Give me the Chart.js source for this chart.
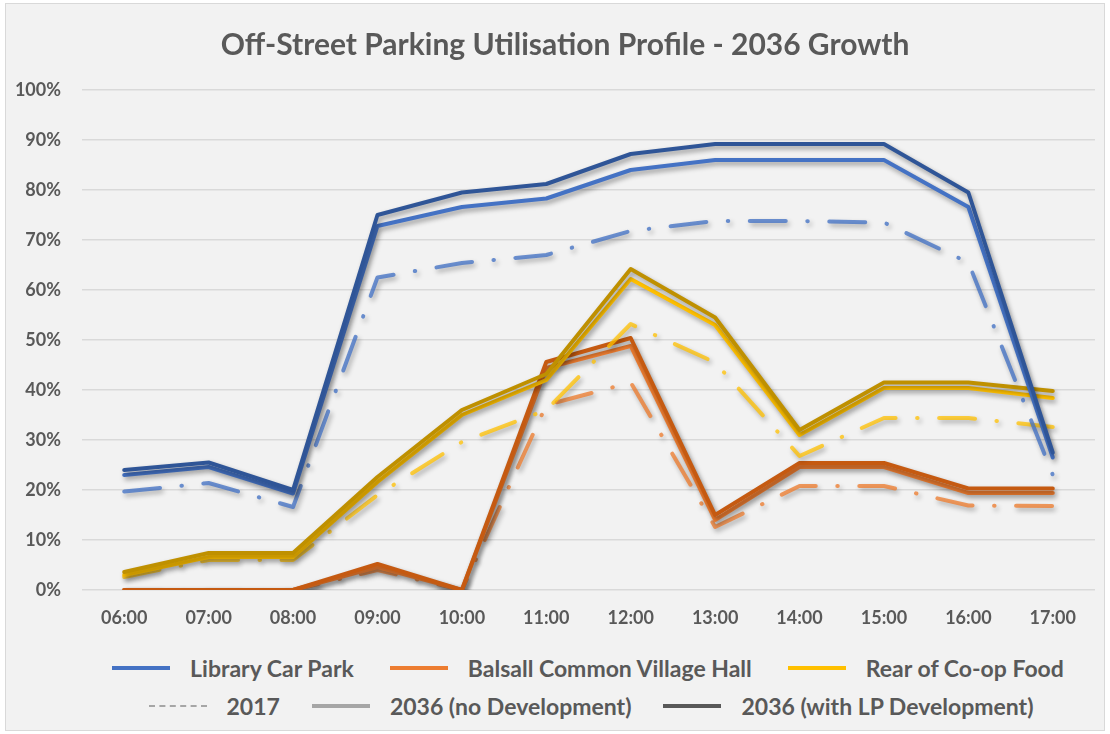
<!DOCTYPE html>
<html>
<head>
<meta charset="utf-8">
<script src="https://cdn.jsdelivr.net/npm/chart.js@4"></script>
<style>
  html, body { margin: 0; padding: 0; background: #ffffff; }
  body { width: 1110px; height: 734px; position: relative; overflow: hidden; font-family: Lato, 'Open Sans', sans-serif; }
  #frame { position: absolute; left: 5px; top: 3px; width: 1098px; height: 726px; border: 1px solid #d9d9d9; background: #f2f2f2; }
  #chartBox { position: absolute; left: 0; top: 0; width: 1110px; height: 640px; }
  #title { position: absolute; left: 0; top: 25px; width: 1130px; text-align: center; font-size: 30px; line-height: 36px; font-weight: 700; color: #595959; }
  .legendRow { position: absolute; left: 0; width: 1110px; height: 28px; box-sizing: border-box; display: flex; justify-content: center; color: #595959; font-weight: 700; font-size: 23px; line-height: 28px; }
  .item { display: flex; align-items: center; }
  .swatch { display: inline-block; width: 58px; height: 0; margin-right: 20px; }
</style>
</head>
<body>
<div id="frame"></div>
<div id="chartBox"><canvas id="parking-chart"></canvas></div>
<div id="title">Off-Street Parking Utilisation Profile - 2036 Growth</div>
<div class="legendRow" id="legendLocations" style="top:654px; gap:36px; padding-left:66px;"></div>
<div class="legendRow" id="legendScenarios" style="top:692px; gap:32px; padding-left:72px;"></div>
<script>
// categories
const hours = ['06:00', '07:00', '08:00', '09:00', '10:00', '11:00', '12:00', '13:00', '14:00', '15:00', '16:00', '17:00'];

// Library Car Park (% utilisation)
const library2017 = [19.7, 21.4, 16.6, 62.5, 65.4, 67, 71.8, 73.8, 73.8, 73.5, 65.5, 23];
const libraryNoDev = [23, 24.6, 19.3, 72.8, 76.6, 78.3, 84, 86, 86, 86, 76.6, 26.5];
const libraryLP = [24, 25.5, 20, 75, 79.5, 81.2, 87.2, 89.2, 89.2, 89.2, 79.5, 27.5];

// Balsall Common Village Hall
const balsall2017 = [0, 0, 0, 4, 0, 37, 41.5, 12.6, 20.8, 20.8, 16.9, 16.8];
const balsallNoDev = [0, 0, 0, 4.6, 0, 44.4, 48.8, 14, 24.6, 24.6, 19.4, 19.4];
const balsallLP = [0, 0, 0, 5.2, 0, 45.6, 50.4, 15, 25.4, 25.4, 20.3, 20.3];

// Rear of Co-op Food
const coop2017 = [2.6, 6, 6, 19, 29.6, 36, 53.2, 45.5, 26.8, 34.4, 34.4, 32.6];
const coopNoDev = [3, 6.6, 6.6, 21.6, 35, 42, 62.2, 53, 31, 40.4, 40.4, 38.4];
const coopLP = [3.6, 7.4, 7.4, 22.6, 36, 43.2, 64.2, 54.5, 32, 41.5, 41.5, 39.8];

const yTicks = [0, 10, 20, 30, 40, 50, 60, 70, 80, 90, 100];

const locations = ['Library Car Park', 'Balsall Common Village Hall', 'Rear of Co-op Food'];
const scenarios = ['2017', '2036 (no Development)', '2036 (with LP Development)'];

const dashDot = [36, 21.5, 0.5, 21.5];

function series(label, data, color, dash) {
  return {
    label: label,
    data: data,
    borderColor: color,
    borderWidth: 4,
    borderDash: dash || [],
    borderCapStyle: 'round',
    borderJoinStyle: 'round',
    pointRadius: 0,
    pointHoverRadius: 0,
    tension: 0,
    fill: false
  };
}

// soft drop shadow like the spreadsheet line effect
const shadowPlugin = {
  id: 'lineShadow',
  beforeDatasetDraw(chart) {
    const ctx = chart.ctx;
    ctx.save();
    ctx.shadowColor = 'rgba(0, 0, 0, 0.38)';
    ctx.shadowBlur = 5;
    ctx.shadowOffsetX = 2;
    ctx.shadowOffsetY = 3;
  },
  afterDatasetDraw(chart) {
    chart.ctx.restore();
  }
};

const ctx = document.getElementById('parking-chart').getContext('2d');
new Chart(ctx, {
  type: 'line',
  data: {
    labels: hours,
    datasets: [
      series('Library Car Park 2036 (with LP Development)', libraryLP, '#2f5597'),
      series('Library Car Park 2036 (no Development)', libraryNoDev, '#4472c4'),
      series('Library Car Park 2017', library2017, 'rgba(68, 114, 196, 0.78)', dashDot),
      series('Rear of Co-op Food 2036 (with LP Development)', coopLP, '#bf9000'),
      series('Rear of Co-op Food 2036 (no Development)', coopNoDev, '#ffc000'),
      series('Rear of Co-op Food 2017', coop2017, 'rgba(255, 192, 0, 0.75)', dashDot),
      series('Balsall Common Village Hall 2036 (with LP Development)', balsallLP, '#c55a11'),
      series('Balsall Common Village Hall 2036 (no Development)', balsallNoDev, '#ed7d31'),
      series('Balsall Common Village Hall 2017', balsall2017, 'rgba(237, 125, 49, 0.78)', dashDot)
    ]
  },
  options: {
    responsive: true,
    maintainAspectRatio: false,
    animation: false,
    layout: { padding: { top: 90, right: 15, left: 0, bottom: 0 } },
    plugins: {
      legend: { display: false },
      title: { display: false },
      tooltip: { enabled: false }
    },
    scales: {
      x: {
        offset: true,
        grid: { display: false, drawTicks: false },
        border: { display: false },
        ticks: {
          color: '#595959',
          padding: 17,
          font: { family: 'Lato', size: 18, weight: 'bold' }
        },
        afterFit(scale) { scale.height = 50; }
      },
      y: {
        min: 0,
        max: 100,
        afterBuildTicks(scale) { scale.ticks = yTicks.map(v => ({ value: v })); },
        grid: { color: '#d9d9d9', lineWidth: 1.5, drawTicks: false },
        border: { display: false },
        ticks: {
          color: '#595959',
          padding: 21,
          font: { family: 'Lato', size: 18, weight: 'bold' },
          callback: v => v + '%'
        },
        afterFit(scale) { scale.width = 82; }
      }
    }
  },
  plugins: [shadowPlugin]
});

// legend built from the same names
const locColors = ['#4472c4', '#ed7d31', '#ffc000'];
const scenStyles = ['2px dashed #a6a6a6', '4px solid #a6a6a6', '4px solid #595959'];

function addItem(rowId, text, borderTop) {
  const item = document.createElement('div');
  item.className = 'item';
  const sw = document.createElement('span');
  sw.className = 'swatch';
  sw.style.borderTop = borderTop;
  const label = document.createElement('span');
  label.textContent = text;
  item.appendChild(sw);
  item.appendChild(label);
  document.getElementById(rowId).appendChild(item);
}
locations.forEach((name, i) => addItem('legendLocations', name, '4px solid ' + locColors[i]));
scenarios.forEach((name, i) => addItem('legendScenarios', name, scenStyles[i]));
</script>
</body>
</html>
